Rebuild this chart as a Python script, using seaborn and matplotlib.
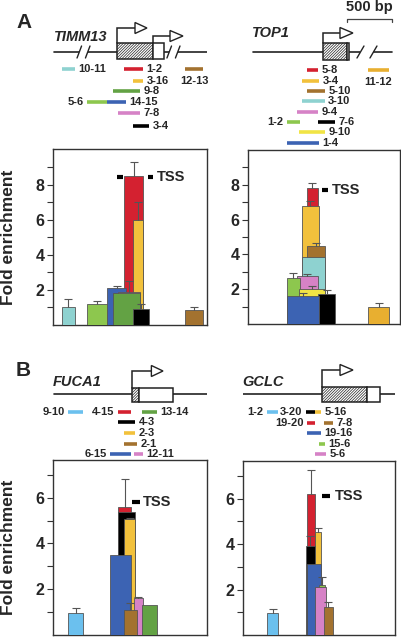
import numpy as np
import pandas as pd
import matplotlib
matplotlib.use("Agg")
import matplotlib.pyplot as plt
import matplotlib.transforms as mtrans
import seaborn as sns
from matplotlib.patches import Rectangle, Polygon

# ----------------------------- data -----------------------------
# amplicon name, start / end (bp relative to TSS), fold enrichment, upper error
timm13_amp   = ["10-11", "5-6", "14-15", "1-2", "3-16", "7-8", "9-8", "3-4", "12-13"]
timm13_start = [-610, -335, -110, 80, 180, 10, -45, 180, 755]
timm13_end   = [-470, -110, 100, 290, 290, 255, 255, 355, 955]
timm13_fold  = [1.0, 1.2, 2.1, 8.5, 6.0, 1.9, 1.8, 0.9, 0.88]
timm13_err   = [0.5, 0.15, 0.15, 0.8, 1.0, 0.6, 0.0, 0.3, 0.12]

top1_amp   = ["5-8", "3-4", "5-10", "3-10", "9-4", "1-2", "9-10", "7-6", "1-4", "11-12"]
top1_start = [-180, -235, -180, -235, -290, -400, -265, -55, -400, 500]
top1_end   = [-55, -45, 20, 20, -55, -255, 20, 135, -45, 735]
top1_fold  = [7.8, 6.8, 4.5, 3.85, 2.78, 2.65, 2.0, 1.75, 1.6, 1.0]
top1_err   = [0.3, 0.25, 0.15, 0.0, 0.12, 0.3, 0.2, 0.2, 0.2, 0.23]

fuca1_amp   = ["9-10", "4-15", "13-14", "4-3", "2-3", "2-1", "6-15", "12-11"]
fuca1_start = [-710, -155, 110, -155, -90, -90, -245, 20]
fuca1_end   = [-545, -10, 280, 35, 35, 55, -10, 120]
fuca1_fold  = [0.95, 5.58, 1.3, 5.36, 5.05, 1.1, 3.5, 1.6]
fuca1_err   = [0.25, 1.22, 0.0, 0.0, 0.08, 0.32, 0.0, 0.08]

gclc_amp   = ["1-2", "3-20", "5-16", "19-20", "7-8", "19-16", "15-6", "5-6"]
gclc_start = [-610, -180, -80, -165, 20, -165, -35, -80]
gclc_end   = [-490, -80, -10, -80, 120, -10, 35, 45]
gclc_fold  = [0.98, 3.9, 4.55, 6.2, 1.22, 3.1, 2.2, 2.1]
gclc_err   = [0.17, 0.47, 0.15, 1.05, 0.23, 0.0, 0.35, 0.0]

gene_names = ["TIMM13", "TOP1", "FUCA1", "GCLC"]
panel_letters = ["A", "B"]
ylabel_text = "Fold enrichment"
tss_text = "TSS"
scale_text = "500 bp"

# ----------------------------- styles -----------------------------
RED = "#d42130"; GOLD = "#f2c13c"; LEMON = "#f1e445"; ORANGE = "#e8af30"
DGREEN = "#63a244"; LGREEN = "#8dc74e"; BLUE = "#3c63b3"; CYAN = "#8ed2d0"
PINK = "#d682c6"; BLACK = "#000000"; BROWN = "#a3722f"; SKY = "#6bc0ee"

timm13_col = {"10-11": CYAN, "5-6": LGREEN, "14-15": BLUE, "1-2": RED, "3-16": GOLD,
              "7-8": PINK, "9-8": DGREEN, "3-4": BLACK, "12-13": BROWN}
top1_col = {"5-8": RED, "3-4": GOLD, "5-10": BROWN, "3-10": CYAN, "9-4": PINK, "1-2": LGREEN,
            "9-10": LEMON, "7-6": BLACK, "1-4": BLUE, "11-12": ORANGE}
fuca1_col = {"9-10": SKY, "4-15": RED, "13-14": DGREEN, "4-3": BLACK, "2-3": GOLD,
             "2-1": BROWN, "6-15": BLUE, "12-11": PINK}
gclc_col = {"1-2": SKY, "3-20": BLACK, "5-16": GOLD, "19-20": RED, "7-8": BROWN,
            "19-16": BLUE, "15-6": LGREEN, "5-6": PINK}

sns.set_theme(style="ticks")
plt.rcParams["font.family"] = ["Liberation Sans", "DejaVu Sans"]
plt.rcParams["font.weight"] = "bold"
plt.rcParams["hatch.linewidth"] = 0.5

W, H = 402, 637
fig = plt.figure(figsize=(W / 100, H / 100), dpi=100)
fig.patch.set_facecolor("white")

HATCH = "/" * 12
LINE = "#222222"
EDGE = "#555555"
AMP_FS = 8


def rect(l, t, r, b):
    return [l / W, 1 - b / H, (r - l) / W, (b - t) / H]


def draw_chart(ax, names, starts, ends, fold, err, colors, ymax, majors, minors, xlim,
               tss_segments, tss_y, tss_x, ylabel=False):
    df = pd.DataFrame(dict(name=names, start=starts, end=ends, fold=fold, err=err))
    df["color"] = df["name"].map(colors)
    df = df.sort_values("fold", ascending=False).reset_index(drop=True)
    for i, r in df.iterrows():
        z = 3 + 2 * i
        ax.bar(r.start, r.fold, width=r.end - r.start, align="edge", color=r.color,
               edgecolor=EDGE, linewidth=0.6, zorder=z)
        if r.err > 0:
            c = (r.start + r.end) / 2
            ax.plot([c, c], [r.fold, r.fold + r.err], color=EDGE, lw=0.8, zorder=z + 1)
            ax.plot([c], [r.fold + r.err], marker="_", ms=6, mew=0.8, color=EDGE, zorder=z + 1)
    for (a, b) in tss_segments:
        ax.plot([a, b], [tss_y, tss_y], color="black", lw=3, solid_capstyle="butt", zorder=50)
    ax.text(tss_x, tss_y, tss_text, ha="left", va="center", fontsize=10.5,
            fontweight="bold", zorder=50)
    ax.set_xlim(*xlim)
    ax.set_ylim(0, ymax)
    ax.set_xticks([])
    ax.set_yticks(majors)
    ax.set_yticks(minors, minor=True)
    ax.set_yticklabels([str(v) for v in majors], fontsize=11.5, fontweight="bold")
    ax.tick_params(axis="y", which="both", length=4, width=0.8, color="#333333",
                   direction="out", pad=2)
    for s in ax.spines.values():
        s.set_visible(True)
        s.set_color("#333333")
        s.set_linewidth(1.0)
    ax.set_facecolor("white")
    if ylabel:
        ax.set_ylabel(ylabel_text, fontsize=12.5, fontweight="bold")
        ax.yaxis.set_label_coords(-0.24, 0.5)


def draw_gene(axd, xlim, ylim, line_x, line_y, boxes, arrows, breaks):
    axd.set_xlim(*xlim)
    axd.set_ylim(*ylim)
    axd.axis("off")
    axd.plot(line_x, [line_y, line_y], color=LINE, lw=1.2, zorder=1)
    for (x0, x1, y0, y1, hatch) in boxes:
        axd.add_patch(Rectangle((x0, y0), x1 - x0, y1 - y0, facecolor="white",
                                edgecolor=LINE, lw=1.1, hatch=hatch, zorder=3))
    for (x, ybase, ya, xh0, xh1) in arrows:
        axd.plot([x, x, xh0], [ybase, ya, ya], color=LINE, lw=1.1, zorder=4,
                 solid_joinstyle="miter")
        axd.add_patch(Polygon([(xh0, ya - 5.5), (xh0, ya + 5.5), (xh1, ya)], closed=True,
                              facecolor="white", edgecolor=LINE, lw=1.0, zorder=5))
    for (xa, xb) in breaks:
        dx = (xb - xa) * 0.35
        axd.add_patch(Rectangle((xa + dx * 0.5, line_y - 2), (xb - xa) - dx, 4,
                                facecolor="white", edgecolor="none", zorder=2))
        for xs in (xa, xb - dx):
            axd.plot([xs, xs + dx], [line_y + 6, line_y - 6], color=LINE, lw=1.0, zorder=3)


def draw_amplicons(axd, names, starts, ends, colors, rows, sides):
    for n, s, e in zip(names, starts, ends):
        y = rows[n]
        axd.plot([s, e], [y, y], color=colors[n], lw=2.6, solid_capstyle="butt", zorder=6)
        side = sides.get(n, "R")
        if side == "R":
            axd.annotate(n, xy=(e, y), xytext=(2.5, 0), textcoords="offset points",
                         ha="left", va="center", fontsize=AMP_FS, fontweight="bold")
        elif side == "L":
            axd.annotate(n, xy=(s, y), xytext=(-2.5, 0), textcoords="offset points",
                         ha="right", va="center", fontsize=AMP_FS, fontweight="bold")
        else:
            axd.annotate(n, xy=((s + e) / 2, y), xytext=(0, -8.5), textcoords="offset points",
                         ha="center", va="center", fontsize=AMP_FS, fontweight="bold")


def gene_label(axd, xfrac, y, name):
    tr = mtrans.blended_transform_factory(axd.transAxes, axd.transData)
    axd.text(xfrac, y, name, transform=tr, ha="left", va="center",
             fontsize=10.5, fontweight="bold", fontstyle="italic")


# ----------------------------- panel A : TIMM13 -----------------------------
xl = (-711, 1000)
ax = fig.add_axes(rect(53, 149, 207, 325))
draw_chart(ax, timm13_amp, timm13_start, timm13_end, timm13_fold, timm13_err, timm13_col,
           10.05, [2, 4, 6, 8], [1, 3, 5, 7, 9], xl, [(0, 62), (345, 400)], 8.45, 444,
           ylabel=True)
axd = fig.add_axes(rect(53, 0, 207, 149))
draw_gene(axd, xl, (149, 0), [-700, 1000], 52,
          [(0, 400, 43, 59, HATCH), (400, 522, 43, 59, None)],
          [(0, 43, 28, 200, 333), (400, 43, 36, 589, 733)],
          [(-444, -300), (555, 700)])
draw_amplicons(axd, timm13_amp, timm13_start, timm13_end, timm13_col,
               {"10-11": 69, "1-2": 69, "12-13": 69, "3-16": 81, "9-8": 91, "5-6": 102,
                "14-15": 102, "7-8": 113, "3-4": 126},
               {"5-6": "L", "12-13": "B"})
gene_label(axd, 0.006, 37, gene_names[0])

# ----------------------------- panel A : TOP1 -----------------------------
xl = (-833, 856)
ax = fig.add_axes(rect(248, 150, 400, 324))
draw_chart(ax, top1_amp, top1_start, top1_end, top1_fold, top1_err, top1_col,
           10.0, [2, 4, 6, 8], [1, 3, 5, 7, 9], xl, [(-10, 55)], 7.7, 100)
axd = fig.add_axes(rect(248, 0, 400, 150))
draw_gene(axd, xl, (150, 0), [-778, 767], 52,
          [(0, 267, 43, 60, HATCH), (267, 290, 43, 60, None)],
          [(0, 43, 33, 189, 333)],
          [(378, 600)])
draw_amplicons(axd, top1_amp, top1_start, top1_end, top1_col,
               {"5-8": 70, "11-12": 70, "3-4": 81, "5-10": 91, "3-10": 101, "9-4": 112,
                "1-2": 122, "7-6": 122, "9-10": 132, "1-4": 143},
               {"1-2": "L", "11-12": "B"})
gene_label(axd, 0.026, 33, gene_names[1])
axd.plot([267, 267, 767, 767], [22, 19, 19, 22], color="#444444", lw=0.9, clip_on=False)
axd.text(517, 7, scale_text, ha="center", va="center", fontsize=10.5, fontweight="bold",
         clip_on=False)

# ----------------------------- panel B : FUCA1 -----------------------------
xl = (-878, 833)
ax = fig.add_axes(rect(53, 460, 207, 635))
draw_chart(ax, fuca1_amp, fuca1_start, fuca1_end, fuca1_fold, fuca1_err, fuca1_col,
           7.65, [2, 4, 6], [1, 3, 5, 7], xl, [(0, 89)], 5.8, 122, ylabel=True)
axd = fig.add_axes(rect(53, 340, 207, 460))
draw_gene(axd, xl, (460, 340), [-867, 833], 394,
          [(0, 78, 388, 402, HATCH), (78, 455, 388, 402, None)],
          [(0, 388, 371, 215, 344)],
          [])
draw_amplicons(axd, fuca1_amp, fuca1_start, fuca1_end, fuca1_col,
               {"9-10": 412, "4-15": 412, "13-14": 412, "4-3": 422, "2-3": 433, "2-1": 444,
                "6-15": 454, "12-11": 454},
               {"9-10": "L", "4-15": "L", "6-15": "L"})
gene_label(axd, 0.0, 382, gene_names[2])

# ----------------------------- panel B : GCLC -----------------------------
xl = (-878, 811)
ax = fig.add_axes(rect(243, 461, 395, 635))
draw_chart(ax, gclc_amp, gclc_start, gclc_end, gclc_fold, gclc_err, gclc_col,
           7.65, [2, 4, 6], [1, 3, 5, 7], xl, [(0, 89)], 6.1, 144)
axd = fig.add_axes(rect(243, 340, 395, 461))
draw_gene(axd, xl, (461, 340), [-878, 822], 394,
          [(0, 500, 387, 402, HATCH), (500, 644, 387, 402, None)],
          [(0, 387, 370, 200, 344)],
          [])
draw_amplicons(axd, gclc_amp, gclc_start, gclc_end, gclc_col,
               {"1-2": 412, "3-20": 412, "5-16": 412, "19-20": 423, "7-8": 423, "19-16": 433,
                "15-6": 444, "5-6": 454},
               {"1-2": "L", "3-20": "L", "19-20": "L"})
gene_label(axd, -0.007, 382, gene_names[3])

# panel letters
fig.text(24 / W, 1 - 23 / H, panel_letters[0], ha="center", va="center", fontsize=15,
         fontweight="bold")
fig.text(23 / W, 1 - 371 / H, panel_letters[1], ha="center", va="center", fontsize=15,
         fontweight="bold")

fig.savefig("out.png", dpi=100, facecolor="white")
